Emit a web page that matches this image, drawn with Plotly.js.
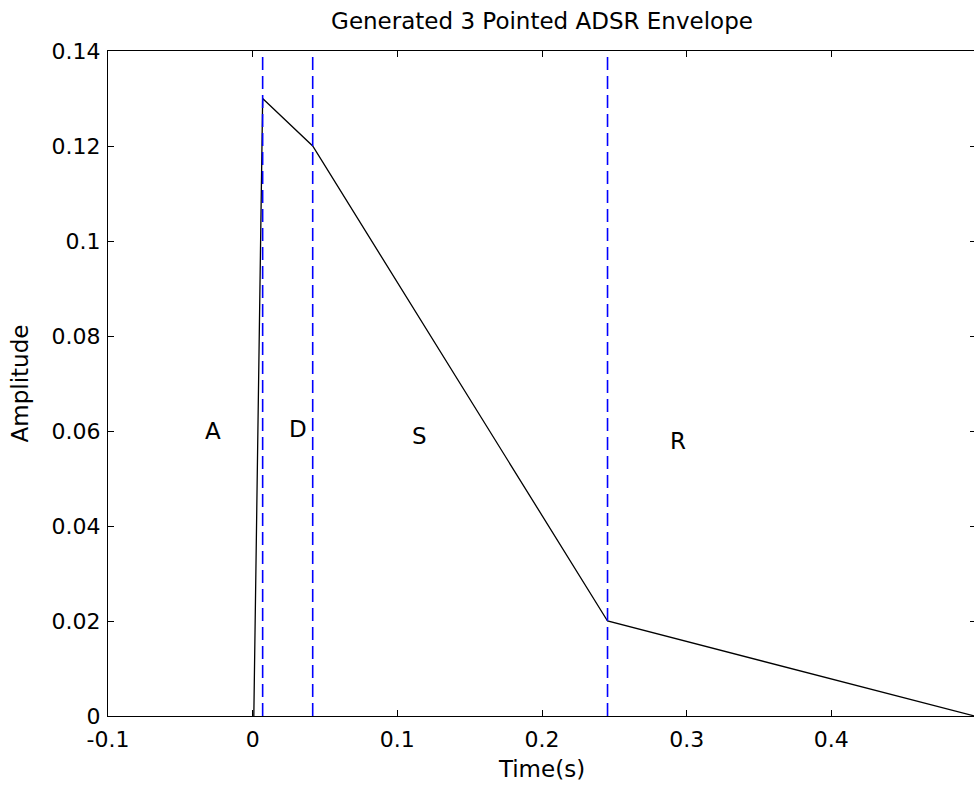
<!DOCTYPE html>
<html>
<head>
<meta charset="utf-8">
<script src="https://cdn.plot.ly/plotly-3.0.1.min.js"></script>
<style>
html,body{margin:0;padding:0;overflow:hidden;background:#fff;}
#chart{width:980px;height:794px;}
</style>
</head>
<body>
<div id="chart"></div>
<script>
// Envelope points (time in s, amplitude)
const envTime = [0.0008, 0.0069, 0.0415, 0.2453, 0.4990];
const envAmp  = [0, 0.13, 0.12, 0.02, 0];

// Phase boundaries (blue dashed lines)
const boundaries = [0.0069, 0.0415, 0.2453];

// Phase labels
const labelText = ['A', 'D', 'S', 'R'];
const labelX = [-0.034, 0.0235, 0.109, 0.287];
const labelY = [0.0601, 0.0605, 0.059, 0.058];

// Ticks
const xTicks = [-0.1, 0, 0.1, 0.2, 0.3, 0.4, 0.5];
const xTickText = ['-0.1', '0', '0.1', '0.2', '0.3', '0.4', '0.5'];
const yTicks = [0, 0.02, 0.04, 0.06, 0.08, 0.1, 0.12, 0.14];
const yTickText = ['0', '0.02', '0.04', '0.06', '0.08', '0.1', '0.12', '0.14'];

const yMax = 0.14;

const traces = [{
  x: envTime, y: envAmp, type: 'scatter', mode: 'lines',
  line: {color: '#000000', width: 1.3}, hoverinfo: 'skip', showlegend: false
}];
boundaries.forEach(b => {
  traces.push({
    x: [b, b], y: [0, yMax], type: 'scatter', mode: 'lines',
    line: {color: '#0000ff', width: 1.6, dash: '13px,6px'},
    hoverinfo: 'skip', showlegend: false
  });
});

const font = {family: 'DejaVu Sans, Verdana, sans-serif', size: 23, color: '#000'};
const tickFont = {family: 'DejaVu Sans, Verdana, sans-serif', size: 22, color: '#000'};

const annotations = labelText.map((t, i) => ({
  x: labelX[i], y: labelY[i], xref: 'x', yref: 'y', text: t,
  showarrow: false, xanchor: 'left', yanchor: 'middle', font: font
}));

const layout = {
  width: 980, height: 794,
  margin: {l: 108, r: 4, t: 51, b: 78, pad: 0},
  paper_bgcolor: '#fff', plot_bgcolor: '#fff',
  font: font,
  showlegend: false,
  title: {text: 'Generated 3 Pointed ADSR Envelope', font: font,
          x: 0.5, xref: 'paper', y: 1 - 21/794, yref: 'container', yanchor: 'middle'},
  xaxis: {
    range: [-0.1, 0.5], tickvals: xTicks, ticktext: xTickText,
    ticks: 'inside', ticklen: 6, tickcolor: '#000', tickwidth: 1,
    showline: true, linecolor: '#000', linewidth: 1, mirror: 'ticks',
    showgrid: false, zeroline: false, tickfont: tickFont,
    ticklabelstandoff: 4,
    title: {text: 'Time(s)', font: font, standoff: 9},
    automargin: false
  },
  yaxis: {
    range: [0, yMax], tickvals: yTicks, ticktext: yTickText,
    ticks: 'inside', ticklen: 6, tickcolor: '#000', tickwidth: 1,
    showline: true, linecolor: '#000', linewidth: 1, mirror: 'ticks',
    showgrid: false, zeroline: false, tickfont: tickFont,
    ticklabelstandoff: 2,
    title: {text: 'Amplitude', font: font, standoff: 16},
    automargin: false
  },
  annotations: annotations
};

Plotly.newPlot('chart', traces, layout, {staticPlot: true, displayModeBar: false});
</script>
</body>
</html>
